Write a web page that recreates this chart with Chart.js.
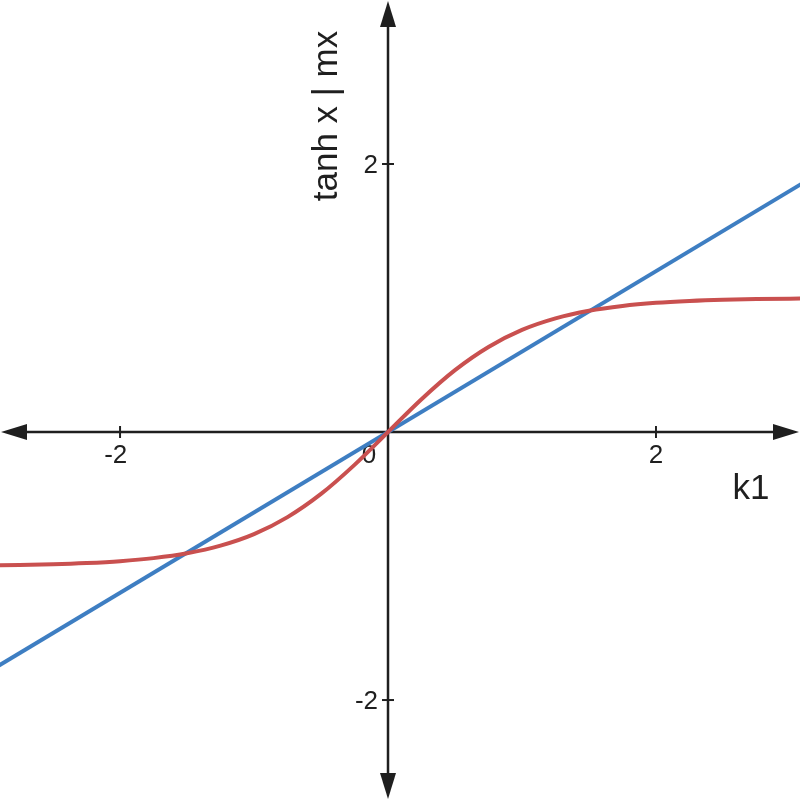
<!DOCTYPE html>
<html>
<head>
<meta charset="utf-8">
<script src="https://cdn.jsdelivr.net/npm/chart.js@4"></script>
<style>
  html, body { margin: 0; padding: 0; background: #fff; }
  #wrap { width: 800px; height: 800px; }
</style>
</head>
<body>
<div id="wrap"><canvas id="chart" width="800" height="800"></canvas></div>
<script>
// Data
const xRange = [-2.896, 3.075];
const yRange = [-2.746, 3.224];
const tickValues = [-2, 2];
const tickLabels = ['-2', '2'];
const xTitle = 'k1';
const yTitle = 'tanh x | mx';

// tanh x curve (red)
const tanhX = [-3, -2.75, -2.5, -2.25, -2, -1.75, -1.5, -1.25, -1, -0.75, -0.5, -0.25, 0,
               0.25, 0.5, 0.75, 1, 1.25, 1.5, 1.75, 2, 2.25, 2.5, 2.75, 3, 3.25];
const tanhY = [-0.995, -0.992, -0.987, -0.978, -0.964, -0.941, -0.905, -0.848, -0.762, -0.635, -0.462, -0.245, 0,
               0.245, 0.462, 0.635, 0.762, 0.848, 0.905, 0.941, 0.964, 0.978, 0.987, 0.992, 0.995, 0.997];

// mx line (blue)
const lineX = [-3, 3.2];
const lineY = [-1.8, 1.92];

const axisColor = '#1f1f1f';
const font = '"Liberation Sans", Arial, sans-serif';

// Axes through the origin with arrowheads, drawn under the curves
const originAxes = {
    id: 'originAxes',
    beforeDatasetsDraw(chart) {
        const ctx = chart.ctx;
        const xs = chart.scales.x;
        const ys = chart.scales.y;
        const ox = xs.getPixelForValue(0);
        const oy = ys.getPixelForValue(0);
        const w = chart.width, h = chart.height;

        ctx.save();
        ctx.strokeStyle = axisColor;
        ctx.fillStyle = axisColor;
        ctx.lineWidth = 2.5;

        // axis lines
        ctx.beginPath();
        ctx.moveTo(12, oy); ctx.lineTo(w - 12, oy);
        ctx.moveTo(ox, 12); ctx.lineTo(ox, h - 12);
        ctx.stroke();

        // arrowheads
        function arrow(tx, ty, dx, dy) {
            const len = 26, half = 8;
            const bx = tx - dx * len, by = ty - dy * len;
            ctx.beginPath();
            ctx.moveTo(tx, ty);
            ctx.lineTo(bx - dy * half, by + dx * half);
            ctx.lineTo(bx + dy * half, by - dx * half);
            ctx.closePath();
            ctx.fill();
        }
        arrow(1, oy, -1, 0);
        arrow(w - 1, oy, 1, 0);
        arrow(ox, 1, 0, -1);
        arrow(ox, h - 1, 0, 1);

        // tick marks and labels (digit centred on the tick, minus hangs left)
        ctx.lineWidth = 2;
        ctx.font = '26px ' + font;
        ctx.textBaseline = 'alphabetic';
        const digitW = ctx.measureText('2').width;
        tickValues.forEach((v, i) => {
            const px = xs.getPixelForValue(v);
            ctx.beginPath();
            ctx.moveTo(px, oy - 6); ctx.lineTo(px, oy + 6);
            ctx.stroke();
            ctx.textAlign = 'right';
            ctx.fillText(tickLabels[i], px + digitW / 2, oy + 31);

            const py = ys.getPixelForValue(v);
            ctx.beginPath();
            ctx.moveTo(ox - 6, py); ctx.lineTo(ox + 6, py);
            ctx.stroke();
            ctx.fillText(tickLabels[i], ox - 10, py + 9);
        });
        ctx.textAlign = 'center';
        ctx.fillText('0', ox - 19, oy + 31);

        // axis titles
        ctx.font = '35px ' + font;
        ctx.fillText(xTitle, 751, oy + 67);
        ctx.translate(ox - 51, 116);
        ctx.rotate(-Math.PI / 2);
        ctx.fillText(yTitle, 0, 0);
        ctx.restore();
    }
};

new Chart(document.getElementById('chart'), {
    type: 'scatter',
    data: {
        datasets: [{
            label: 'tanh x',
            data: tanhX.map((x, i) => ({ x: x, y: tanhY[i] })),
            showLine: true,
            borderColor: '#c9504f',
            borderWidth: 4,
            pointRadius: 0,
            cubicInterpolationMode: 'monotone'
        }, {
            label: 'mx',
            data: lineX.map((x, i) => ({ x: x, y: lineY[i] })),
            showLine: true,
            borderColor: '#3e7ec2',
            borderWidth: 4,
            pointRadius: 0
        }]
    },
    options: {
        responsive: false,
        animation: false,
        layout: { padding: 0 },
        scales: {
            x: { type: 'linear', display: false, min: xRange[0], max: xRange[1] },
            y: { type: 'linear', display: false, min: yRange[0], max: yRange[1] }
        },
        plugins: {
            legend: { display: false },
            tooltip: { enabled: false }
        }
    },
    plugins: [originAxes]
});
</script>
</body>
</html>
